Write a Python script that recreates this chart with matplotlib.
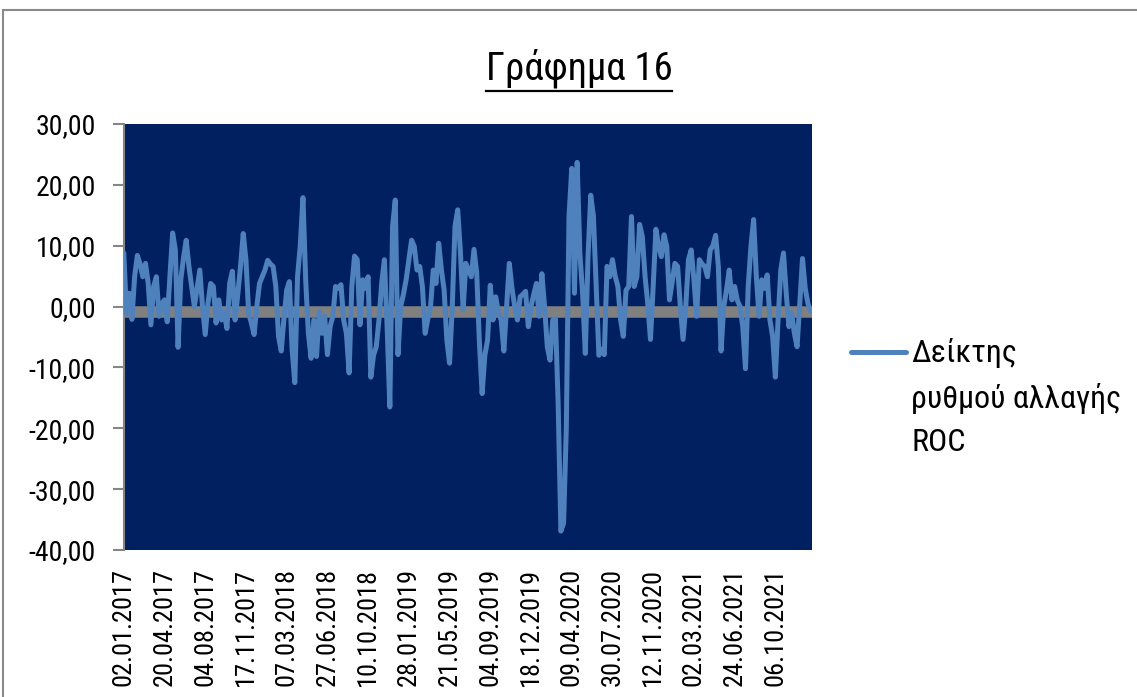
import numpy as np
import matplotlib
matplotlib.use("Agg")
import matplotlib.pyplot as plt
from matplotlib.lines import Line2D
from matplotlib.patches import Rectangle
from matplotlib.ticker import FuncFormatter

# ROC readings, one every 5 trading days (Jan 2017 - Dec 2021)
roc = [
    8.8, -1.1, 2.2, -2.1, 4.9, 8.4, 7.0, 4.9, 7.1, 3.8,
    -3.0, 3.3, 4.9, -1.6, 0.5, 1.1, -2.5, 5.0, 12.1, 9.3,
    -6.7, 4.4, 8.0, 10.9, 6.6, 3.3, 0.0, 3.0, 6.0, 0.0,
    -4.6, 0.5, 3.8, 3.3, -2.7, 1.1, -2.2, -1.0, -3.6, 3.8,
    5.8, -2.2, 2.0, 6.6, 12.0, 7.7, -1.1, -2.7, -4.6, 0.0,
    3.8, 4.9, 6.0, 7.6, 7.0, 6.6, 3.3, -4.9, -7.3, -2.0,
    2.7, 4.1, -7.1, -12.5, 4.9, 10.0, 17.9, 4.4, -4.4, -8.5,
    -2.2, -8.2, -0.8, -4.4, -1.6, -7.9, -3.3, -1.6, 3.3, 3.0,
    3.6, -2.2, -4.4, -10.9, 3.3, 8.3, 7.7, -3.0, 4.4, 3.0,
    4.9, -11.6, -8.0, -6.6, -2.2, 3.8, 7.7, -3.3, -16.5, 13.2,
    17.5, -7.9, 0.0, 2.0, 4.4, 7.7, 10.9, 9.9, 6.0, 6.6,
    3.3, -4.4, -2.0, 0.0, 6.0, 3.8, 10.4, 6.0, 2.7, -5.5,
    -9.3, 0.0, 13.2, 15.9, 9.0, -0.5, 7.1, 6.0, 4.9, 9.4,
    5.5, -6.0, -14.3, -8.0, -5.5, 3.5, -2.2, 1.6, -1.0, -2.2,
    -7.3, 0.0, 7.1, 3.0, 0.0, -2.2, 1.6, 2.0, 2.5, -3.3,
    0.0, 2.0, 3.8, -1.6, 5.4, 0.0, -6.6, -8.8, -2.2, -2.0,
    -16.0, -36.9, -35.6, -20.0, 14.8, 22.7, 2.2, 23.7, 8.8, 2.2,
    -7.7, 8.2, 18.3, 14.8, 3.3, -8.0, -7.0, -7.9, 6.6, 4.9,
    7.7, 5.0, 3.3, -2.2, -4.9, 2.7, 3.3, 14.8, 3.3, 4.9,
    13.5, 11.5, 5.0, 0.5, -5.4, 3.3, 12.7, 10.0, 8.2, 11.8,
    9.9, 1.1, 4.0, 7.1, 6.6, 0.0, -5.4, 0.0, 7.7, 9.3,
    4.4, -1.6, 7.7, 7.0, 6.6, 4.9, 9.3, 10.0, 11.7, 6.6,
    -7.3, 0.0, 2.7, 6.0, 1.1, 3.3, 1.0, 0.0, -3.3, -10.2,
    3.3, 9.9, 14.3, 4.9, -1.6, 4.4, 3.0, 5.2, -2.2, -4.9,
    -11.6, -2.2, 6.0, 8.8, 2.2, -3.3, -1.0, -4.4, -6.6, 0.5,
    7.9, 3.0, 0.5, -0.8,
]
step = 5          # trading days between readings
n_days = 1268     # trading days on the category axis
tick_every = 75

date_labels = ["02.01.2017", "20.04.2017", "04.08.2017", "17.11.2017",
               "07.03.2018", "27.06.2018", "10.10.2018", "28.01.2019",
               "21.05.2019", "04.09.2019", "18.12.2019", "09.04.2020",
               "30.07.2020", "12.11.2020", "02.03.2021", "24.06.2021",
               "06.10.2021"]

baseline = -0.9   # where the category axis crosses

plt.rcParams['font.family'] = ['Roboto Condensed', 'Liberation Sans', 'DejaVu Sans']

W, H = 1137, 697
fig = plt.figure(figsize=(W / 100, H / 100), dpi=100)
ax = fig.add_axes([123.5 / W, (H - 550) / H, 688.5 / W, 426 / H])

line_col = '#4F81BD'
grey = '#868686'

days = np.arange(len(roc)) * step
ax.set_facecolor('#002060')
ax.axhline(baseline, color='#808080', lw=8.3, zorder=2)
ax.plot(days, roc, color=line_col, lw=3.6, solid_joinstyle='round',
        solid_capstyle='round', zorder=3)

ax.set_xlim(-0.5, n_days - 0.5)
ax.set_ylim(-40, 30)

for s in ['top', 'right', 'bottom']:
    ax.spines[s].set_visible(False)
ax.spines['left'].set_color(grey)
ax.spines['left'].set_linewidth(1.5)

ax.set_yticks(np.arange(-40, 31, 10))
ax.yaxis.set_major_formatter(FuncFormatter(lambda v, p: f"{v:.2f}".replace(".", ",")))
ax.tick_params(axis='y', length=8, width=1.5, color=grey, labelsize=20, pad=12)

ax.set_xticks(np.arange(len(date_labels)) * tick_every)
ax.set_xticklabels(date_labels, rotation=90)
ax.tick_params(axis='x', length=0, labelsize=19, pad=13)

# title with underline
title = fig.text(579 / W, 1 - 80 / H, "Γράφημα 16", ha='center', va='baseline', fontsize=28)

# legend drawn by hand so the line sits next to the first text line
fig.add_artist(Line2D([851 / W, 906 / W], [1 - 352 / H] * 2, color=line_col, lw=3.6,
                      solid_capstyle='round'))
fig.text(911 / W, 1 - 338 / H, "Δείκτης\nρυθμού αλλαγής\nROC", ha='left', va='top',
         fontsize=23, linespacing=1.6)

# chart frame
fig.add_artist(Rectangle((3 / W, -0.05), 1.1, (H - 10) / H + 0.05, transform=fig.transFigure,
                         fill=False, ec='#898989', lw=1.5))

fig.canvas.draw()
bb = title.get_window_extent()
uy = (H - 91) / H
fig.add_artist(Line2D([bb.x0 / W, bb.x1 / W], [uy, uy], color='black', lw=1.6))

fig.savefig("out.png", dpi=100)
